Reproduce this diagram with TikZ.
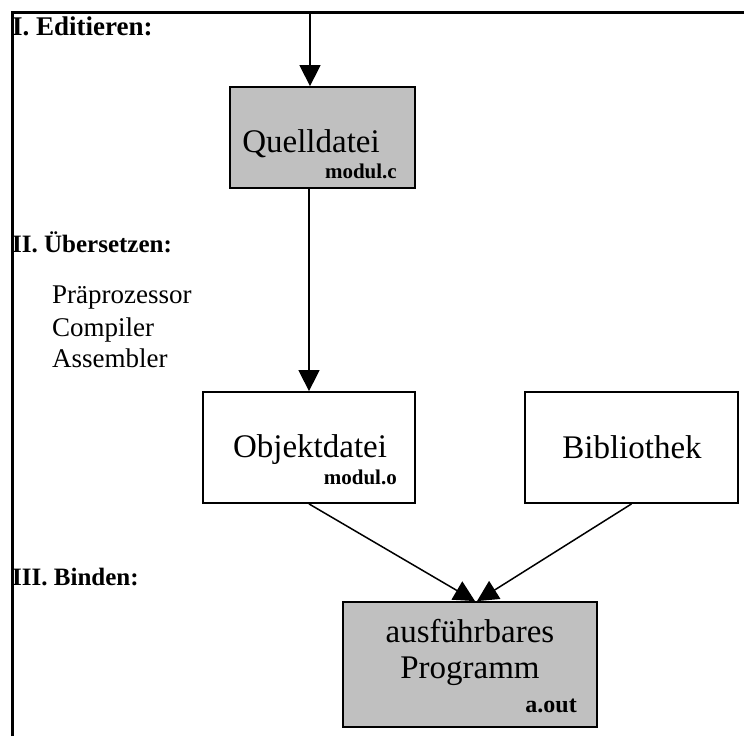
\documentclass[tikz,border=0pt]{standalone}
\usepackage{fontspec}
\setmainfont{Liberation Serif}
\usetikzlibrary{arrows.meta}
\definecolor{boxgray}{HTML}{C0C0C0}

\begin{document}
\begin{tikzpicture}[
    x=1pt, y=-1pt,
    filebox/.style={draw, line width=1.8pt, rectangle, inner sep=0pt},
    maintext/.style={font=\fontsize{33}{36}\selectfont, inner sep=0pt, anchor=base},
    subtext/.style={font=\fontsize{21}{24}\selectfont\bfseries, inner sep=0pt, anchor=base east},
    stagetext/.style={font=\fontsize{25}{28}\selectfont\bfseries, inner sep=0pt, anchor=base west},
    steptext/.style={font=\fontsize{27}{30}\selectfont, inner sep=0pt, anchor=base west},
    flow/.style={line width=1.5pt, -{Triangle[length=21pt,width=21pt]}}
    ]
	\useasboundingbox (0,0) rectangle (744,736);
	\draw[line width=3pt] (12,736) -- (12,12) -- (744,12);

	% stages
	\node[stagetext, font=\fontsize{27}{30}\selectfont\bfseries] (edit) at (12,35) {I. Editieren:};
	\node[stagetext] (uebersetzen) at (12,252) {II. Übersetzen:};
	\node[stagetext] (binden) at (12,585) {III. Binden:};
	\foreach \name/\y/\txt in {prae/303/Präprozessor, comp/336/Compiler, ass/367/Assembler}
		\node[steptext] (\name) at (52,\y) {\txt};

	% files
	\node[filebox, fill=boxgray, minimum width=185pt, minimum height=101pt] (quelle) at (322.5,137.5) {};
	\node[maintext] (quelletxt) at (311,152) {Quelldatei};
	\node[subtext] (quellesub) at (397,178) {modul.c};

	\node[filebox, minimum width=212pt, minimum height=111pt] (objekt) at (309,447.5) {};
	\node[maintext] (objekttxt) at (310,457) {Objektdatei};
	\node[subtext] (objektsub) at (397,484) {modul.o};

	\node[filebox, minimum width=213pt, minimum height=111pt] (bib) at (631.5,447.5) {};
	\node[maintext] (bibtxt) at (632,458) {Bibliothek};

	\node[filebox, fill=boxgray, minimum width=254pt, minimum height=125pt] (prog) at (470,664.5) {};
	\node[maintext] (progtxt1) at (470,642) {ausführbares};
	\node[maintext] (progtxt2) at (470,678) {Programm};
	\node[subtext, font=\fontsize{24}{27}\selectfont\bfseries] (progsub) at (577,712) {a.out};

	% arrows
	\coordinate (start) at (310,12);
	\draw[flow] (start) -- (start |- quelle.north);
	\draw[flow] (objekt.north |- quelle.south) -- (objekt.north);
	\draw[flow] (objekt.south) -- ([xshift=5pt]prog.north);
	\draw[flow] (bib.south) -- ([xshift=7pt]prog.north);
\end{tikzpicture}
\end{document}
